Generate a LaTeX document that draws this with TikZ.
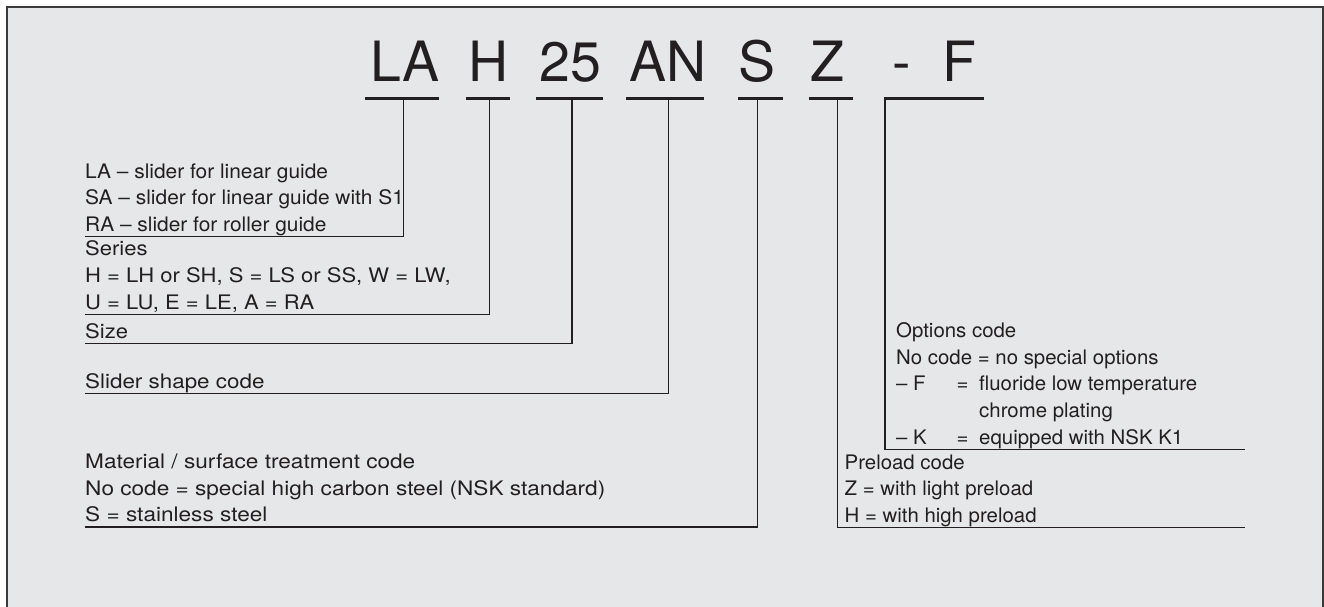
\documentclass[tikz,border=0pt]{standalone}
\usepackage{fontspec}
\setmainfont{TeX Gyre Heros}
% text families with slightly widened set widths for the description blocks
\newfontfamily\fLA[Ligatures=TeX,FakeStretch=1.045]{TeX Gyre Heros}
\newfontfamily\fSer[Ligatures=TeX,FakeStretch=1.10]{TeX Gyre Heros}
\newfontfamily\fShp[Ligatures=TeX,FakeStretch=1.12]{TeX Gyre Heros}
\newfontfamily\fMat[Ligatures=TeX,FakeStretch=1.13]{TeX Gyre Heros}
\newfontfamily\fOpt[Ligatures=TeX,FakeStretch=1.02]{TeX Gyre Heros}
\definecolor{panel}{HTML}{E6E7E8}
\definecolor{ink}{HTML}{231F20}
\definecolor{edge}{HTML}{3A3A3A}
% fixed depth for the last line of a description, so its rule sits at the node's bottom
\newcommand\dpfix{\rule[-5pt]{0pt}{5pt}}
\begin{document}
\begin{tikzpicture}[x=1pt,y=1pt,
  code/.style={font=\fontsize{55.5}{60}\selectfont, text=ink, inner sep=0pt, anchor=base},
  codebar/.style={draw=ink, line width=3pt},
  desc/.style={text=ink, inner sep=0pt, anchor=south west, align=left},
  link/.style={draw=ink, line width=1.2pt}]
\useasboundingbox (0,0) rectangle (1324,-607);

% panel
\fill[panel] (6.5,-7.3) rectangle (1322.5,-607);
\draw[edge, line width=2pt] (6.5,-607) -- (6.5,-7.3) -- (1322.5,-7.3) -- (1322.5,-607);

% designation code
\node[code] (cLA) at (404.9,-81.7) {LA};
\node[code] (cH)  at (488.1,-81.7) {H};
\node[code] (c25) at (570.5,-81.7) {25};
\node[code] (cAN) at (668.3,-81.7) {AN};
\node[code] (cS)  at (757.3,-81.7) {S};
\node[code] (cZ)  at (827.1,-81.7) {Z};
\node[code] (cDash) at (901.4,-81.7) {-};
\node[code] (cF)  at (959.6,-81.7) {F};

% bars under each field
\draw[codebar] (364.7,-99) -- (439.4,-99);
\draw[codebar] (465.8,-99) -- (510.4,-99);
\draw[codebar] (536.4,-99) -- (603.3,-99);
\draw[codebar] (626.0,-99) -- (704.0,-99);
\draw[codebar] (738.3,-99) -- (782.5,-99);
\draw[codebar] (808.5,-99) -- (853.1,-99);
\draw[codebar] (884.0,-99) -- (984.0,-99);

% stem origins on the bars
\coordinate (kLA) at (403.3,-99);
\coordinate (kH)  at (489.5,-99);
\coordinate (k25) at (572.0,-99);
\coordinate (kAN) at (668.7,-99);
\coordinate (kS)  at (757.3,-99);
\coordinate (kZ)  at (837.5,-99);
\coordinate (kF)  at (885.0,-99);

% descriptions
\node[desc, font={\fLA\fontsize{20}{26.6}\selectfont}] (tLA) at (85,-236.7)
  {LA – slider for linear guide\\
   SA – slider for linear guide with S1\\
   RA – slider for roller guide\dpfix};
\node[desc, font={\fSer\fontsize{20}{26.6}\selectfont}] (tH) at (85,-314.3)
  {Series\\
   H = LH or SH, S = LS or SS, W = LW,\\
   U = LU, E = LE, A = RA\dpfix};
\node[desc, font={\fSer\fontsize{20}{26.6}\selectfont}] (tSize) at (85,-343.3)
  {Size\dpfix};
\node[desc, font={\fShp\fontsize{20}{26.6}\selectfont}] (tShape) at (85,-393.3)
  {Slider shape code\dpfix};
\node[desc, font={\fMat\fontsize{20}{26.6}\selectfont}] (tMat) at (85,-527)
  {Material / surface treatment code\\
   No code = special high carbon steel (NSK standard)\\
   S = stainless steel\dpfix};
\node[desc, font={\fOpt\fontsize{20}{26.6}\selectfont}] (tPre) at (844.5,-527.5)
  {Preload code\\
   Z = with light preload\\
   H = with high preload\dpfix};
\node[desc, font={\fOpt\fontsize{20}{26.6}\selectfont}] (tOpt) at (896,-449.3)
  {Options code\\
   No code = no special options\\
   \makebox[60.5pt][l]{– F}\makebox[22.5pt][l]{=}fluoride low temperature\\
   \hspace*{83pt}chrome plating\\
   \makebox[60.5pt][l]{– K}\makebox[22.5pt][l]{=}equipped with NSK K1\dpfix};

% right ends of the long rules
\coordinate (ePre) at (1245,-527.5);
\coordinate (eOpt) at (1245,-449.3);

% leaders
\draw[link] (kLA) |- (tLA.south west);
\draw[link] (kH)  |- (tH.south west);
\draw[link] (k25) |- (tSize.south west);
\draw[link] (kAN) |- (tShape.south west);
\draw[link] (kS)  |- (tMat.south west);
\draw[link] (kZ)  |- (ePre);
\draw[link] (kF)  |- (eOpt);
\end{tikzpicture}
\end{document}
